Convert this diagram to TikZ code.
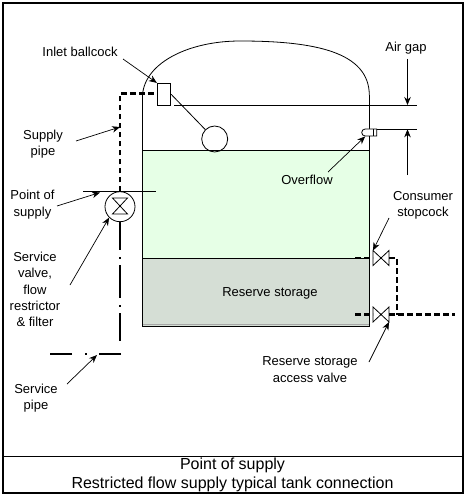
\documentclass[tikz,border=0pt]{standalone}
\usepackage{fontspec}
\setmainfont{Liberation Sans}
\usepackage{tikz}
\usetikzlibrary{positioning,arrows.meta,shapes.misc}
\definecolor{watergreen}{HTML}{E6FFE6}
\definecolor{reservegrey}{HTML}{D5DED5}

\begin{document}
\begin{tikzpicture}[
  x=1pt, y=-1pt,
  line width=0.8pt,
  font=\fontsize{13}{16.3}\selectfont,
  lbl/.style={align=center, inner sep=0pt},
  caption/.style={align=center, inner sep=0pt, font=\fontsize{16}{18}\selectfont},
  lead/.style={-{Stealth[length=8pt,width=6.5pt]}, line width=0.7pt},
  valvebox/.style={rectangle, minimum width=16pt, minimum height=15pt, inner sep=0pt, outer sep=0pt},
  pipe/.style={line width=2.5pt, dash pattern=on 5.5pt off 3.5pt},
  mainspipe/.style={line width=2.5pt}
]
\useasboundingbox (0,0) rectangle (467,497);

% Frame and caption panel
\draw[line width=2pt] (3,3) rectangle (463,493);
\draw (3,456) -- (463,456);
\node[caption] (title) at (232.5,465.5) {Point of supply};
\node[caption, below=3.5pt of title] (subtitle) {Restricted flow supply typical tank connection};

% Tank contents
\fill[watergreen] (142.5,150) rectangle (369.3,258);
\fill[reservegrey] (142.5,258) rectangle (369.3,326.5);
\draw[black!35] (142.5,324) -- (369.3,324);
\draw (142.5,150) -- (369.3,150);
\draw (142.5,258) -- (369.3,258);

% Tank shell and dome
\draw (142.5,95) -- (142.5,326.5) -- (369.3,326.5) -- (369.3,95);
\draw (142.5,95) .. controls (145,62) and (190,41) .. (240,41)
      .. controls (315,41) and (369,52) .. (369.3,95);

% Fittings
\node[draw, fill=white, minimum width=13.5pt, minimum height=22pt, inner sep=0pt] (inlet) at (164,94.3) {};
\node[draw, circle, minimum size=26pt, inner sep=0pt] (ball) at (214.7,139) {};
\draw (inlet.east) -- (ball.north west);
\node[draw, circle, fill=white, minimum size=30pt, inner sep=0pt] (service) at (120,206.7) {};
\node[valvebox, minimum width=15pt, minimum height=16pt] (restrictor) at (120,206) {};
\draw (restrictor.north west) -- (restrictor.north east) -- (restrictor.south west)
      -- (restrictor.south east) -- cycle;
\node[valvebox] (consumer) at (381,258) {};
\node[valvebox] (access) at (381,314.5) {};
\foreach \v in {consumer,access}
  \draw (\v.north west) -- (\v.south west) -- (\v.north east) -- (\v.south east) -- cycle;

% Overflow stub
\node[draw, fill=white, rounded rectangle, rounded rectangle right arc=none, minimum width=15pt, minimum height=7pt, inner sep=0pt] (overflow) at (369.2,132.5) {};
\draw (373,129) -- (373,136);

% Levels
\coordinate (toplevel) at (174,105);
\coordinate (topend) at (416.7,105);
\coordinate (lowstart) at (overflow.east |- 0,129.3);
\coordinate (lowend) at (416.7,129.3);
\draw (toplevel) -- (topend);
\draw (lowstart) -- (lowend);
\coordinate (supplyleft) at (83,191.5);
\coordinate (supplyright) at (156,191.5);
\draw (supplyleft) -- (supplyright);

% Supply pipework
\coordinate (pipecorner) at (120,93.5);
\draw[pipe] (service.north) -- (pipecorner) -- (inlet.west |- pipecorner);
\coordinate (stubtop) at (355,258);
\coordinate (stubbottom) at (355,314.5);
\coordinate (risertop) at (397,258);
\coordinate (riserfoot) at (397,314.5);
\coordinate (outlet) at (455,314.5);
\draw[pipe] (stubtop) -- (consumer.west);
\draw[pipe] (stubbottom) -- (access.west);
\draw[pipe] (consumer.east) -- (risertop) -- (riserfoot);
\draw[pipe] (access.east) -- (outlet);

% Service pipe
\coordinate (mainfoot) at (120,341);
\coordinate (mainright) at (121,354);
\coordinate (mainleft) at (50,354);
\draw[mainspipe, dash pattern=on 33pt off 7pt on 2pt off 6pt, dash phase=5pt] (service.south) -- (mainfoot);
\draw[mainspipe, dash pattern=on 22pt off 12.5pt on 2pt off 12.5pt] (mainright) -- (mainleft);

% Labels
\node[lbl] (inletlbl) at (80,52) {Inlet ballcock};
\node[lbl] (airlbl) at (406,48) {Air gap};
\node[lbl] (supplylbl) at (43,144) {Supply\\pipe};
\node[lbl] (pointlbl) at (32.5,204.5) {Point of\\supply};
\node[lbl] (valvelbl) at (35,289.5) {Service\\valve,\\flow\\restrictor\\\& filter};
\node[lbl] (pipelbl) at (36,398) {Service\\pipe};
\node[lbl] (overflowlbl) at (307,180) {Overflow};
\node[lbl] (consumerlbl) at (423,205.5) {Consumer\\stopcock};
\node[lbl] (reservelbl) at (270,293) {Reserve storage};
\node[lbl] (accesslbl) at (310,369.5) {Reserve storage\\access valve};

% Leader arrows
\coordinate (inlettail) at (123,59);
\coordinate (supplytail) at (76,141);
\coordinate (supplyhead) at (120,127);
\coordinate (pointtail) at (57,206);
\coordinate (pointhead) at (100,192.5);
\coordinate (valvetail) at (70,285);
\coordinate (pipetail) at (67,384);
\coordinate (pipehead) at (97,355);
\coordinate (airtail) at (407.5,59);
\coordinate (airhead) at (407.5,105);
\coordinate (gaptail) at (407.5,175);
\coordinate (gaphead) at (407.5,129.3);
\coordinate (overflowtail) at (328,172);
\coordinate (consumertail) at (389,218);
\coordinate (accesstail) at (369,362);
\draw[lead] (inlettail) -- (inlet.north west);
\draw[lead] (supplytail) -- (supplyhead);
\draw[lead] (pointtail) -- (pointhead);
\draw[lead] (valvetail) -- (service.225);
\draw[lead] (pipetail) -- (pipehead);
\draw[lead] (airtail) -- (airhead);
\draw[lead] (gaptail) -- (gaphead);
\draw[lead] (overflowtail) -- (overflow.south west);
\draw[lead] (consumertail) -- (consumer.north west);
\draw[lead] (accesstail) -- (access.south east);
\end{tikzpicture}
\end{document}
